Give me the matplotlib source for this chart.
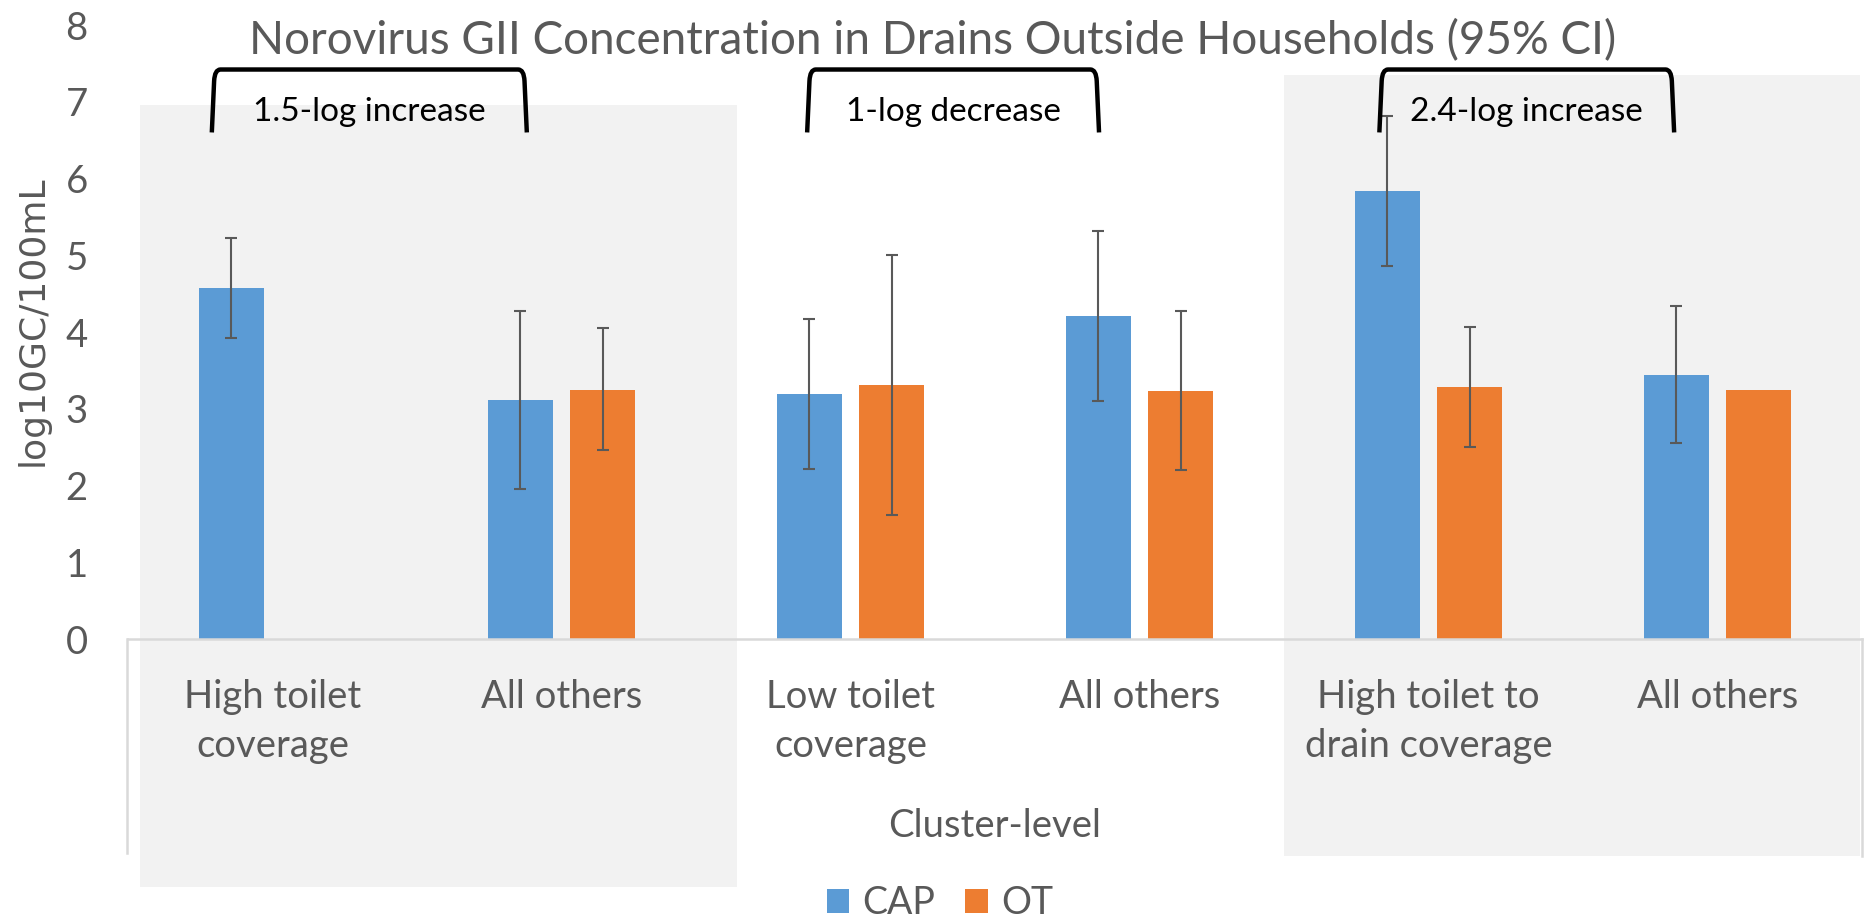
import numpy as np
import matplotlib
matplotlib.use("Agg")
import matplotlib.pyplot as plt
from matplotlib.patches import Rectangle, Patch
from matplotlib.lines import Line2D
from matplotlib.path import Path
from matplotlib.patches import PathPatch

# --------------------------------------------------------------------------- #
# data (log10 GC / 100 mL, 95% CI)
# --------------------------------------------------------------------------- #
categories = ["High toilet\ncoverage", "All others", "Low toilet\ncoverage",
              "All others", "High toilet to\ndrain coverage", "All others"]
cap_mean = [4.57, 3.11, 3.19, 4.21, 5.84, 3.44]
cap_lo   = [3.92, 1.95, 2.21, 3.10, 4.86, 2.55]
cap_hi   = [5.23, 4.27, 4.17, 5.32, 6.82, 4.34]
ot_mean  = [np.nan, 3.25, 3.31, 3.23, 3.28, 3.24]
ot_lo    = [np.nan, 2.46, 1.61, 2.20, 2.50, np.nan]
ot_hi    = [np.nan, 4.05, 5.00, 4.27, 4.07, np.nan]
series_names = ["CAP", "OT"]
yticks = [0, 1, 2, 3, 4, 5, 6, 7, 8]

# bracket annotations: (x start, x end, label) in category units
brackets = [(-0.21, 0.88, "1.5-log increase"),
            (1.85, 2.86, "1-log decrease"),
            (3.83, 4.85, "2.4-log increase")]

BLUE, ORANGE = "#5B9BD5", "#ED7D31"
GREY_TXT = "#595959"
W, H = 1865, 921
FONT = ["Lato", "DejaVu Sans"]

plt.rcParams["font.family"] = FONT

fig = plt.figure(figsize=(W / 100, H / 100), dpi=100)
fig.patch.set_facecolor("white")


def fx(px):
    return px / W


def fy(py):
    return 1 - py / H


# light grey highlight boxes behind the chart
for x0, y0, x1, y1 in ((140, 105, 737, 887), (1284, 75, 1860, 856)):
    fig.patches.append(Rectangle((fx(x0), fy(y1)), fx(x1 - x0), (y1 - y0) / H,
                                 transform=fig.transFigure, facecolor="#F2F2F2",
                                 edgecolor="none", zorder=-5))

ax = fig.add_axes([fx(128), fy(639), fx(1862 - 128), (639 - 25) / H])
ax.set_facecolor("none")

x = np.arange(len(categories))
bw, off = 0.225, 0.142
cap = np.array(cap_mean); ot = np.array(ot_mean)
ax.bar(x - off, cap, bw, color=BLUE, zorder=2)
ax.bar(x + off, ot, bw, color=ORANGE, zorder=2)

cap_err = np.array([cap - np.array(cap_lo), np.array(cap_hi) - cap])
ax.errorbar(x - off, cap, yerr=cap_err, fmt="none", ecolor=GREY_TXT,
            elinewidth=1.5, capsize=4.5, capthick=1.5, zorder=3)
ot_lo_a, ot_hi_a = np.array(ot_lo), np.array(ot_hi)
m = ~np.isnan(ot_lo_a)
ax.errorbar((x + off)[m], ot[m], yerr=[ot[m] - ot_lo_a[m], ot_hi_a[m] - ot[m]],
            fmt="none", ecolor=GREY_TXT, elinewidth=1.5, capsize=4.5,
            capthick=1.5, zorder=3)

ax.set_xlim(-0.5, len(categories) - 0.5)
ax.set_ylim(0, 8)
ax.set_yticks(yticks)
ax.set_xticks(x)
ax.set_xticklabels(categories)
for s in ("top", "right", "left"):
    ax.spines[s].set_visible(False)
ax.spines["bottom"].set_color("#D9D9D9")
ax.spines["bottom"].set_linewidth(1.8)
ax.tick_params(axis="both", length=0, labelsize=27.5, labelcolor=GREY_TXT)
ax.tick_params(axis="y", pad=29)
ax.tick_params(axis="x", pad=29)
for t in ax.get_xticklabels():
    t.set_linespacing(1.45)

# brackets with rounded upper corners
for xs, xe, label in brackets:
    top, bot, r = 7.42, 6.60, 0.15
    rx = 0.03
    verts = [(xs, bot), (xs + 0.008, top - r), (xs + 0.01, top), (xs + rx, top),
             (xe - rx, top), (xe - 0.01, top), (xe - 0.008, top - r), (xe, bot)]
    codes = [Path.MOVETO, Path.LINETO, Path.CURVE3, Path.CURVE3,
             Path.LINETO, Path.CURVE3, Path.CURVE3, Path.LINETO]
    ax.add_patch(PathPatch(Path(verts, codes), facecolor="none", edgecolor="black",
                           linewidth=3.2, capstyle="butt", joinstyle="round",
                           zorder=4, clip_on=False))
    ax.text((xs + xe) / 2, 6.86, label, ha="center", va="center",
            fontsize=24, color="black", zorder=5)

# vertical separator lines of the category axis
for xp, yb in ((127, 853), (1862, 856)):
    fig.lines.append(Line2D([fx(xp), fx(xp)], [fy(639), fy(yb)],
                            transform=fig.transFigure, color="#D9D9D9", lw=1.8))

fig.text(0.5, fy(41), "Norovirus GII Concentration in Drains Outside Households (95% CI)",
         ha="center", va="center", fontsize=33, color=GREY_TXT)
fig.text(fx(995), fy(826), "Cluster-level", ha="center", va="center",
         fontsize=27.5, color=GREY_TXT)
fig.text(fx(33), fy(321), "log10GC/100mL", rotation=90, ha="center", va="center",
         fontsize=26, color=GREY_TXT, family="DejaVu Sans")

handles = [Patch(facecolor=BLUE), Patch(facecolor=ORANGE)]
fig.legend(handles, series_names, loc="center", bbox_to_anchor=(fx(940), fy(903)),
           ncol=2, frameon=False, fontsize=27, labelcolor=GREY_TXT,
           handlelength=0.6, handleheight=0.62, handletextpad=0.35,
           columnspacing=0.8, borderpad=0)

fig.savefig("out.png", dpi=100)
plt.close(fig)
